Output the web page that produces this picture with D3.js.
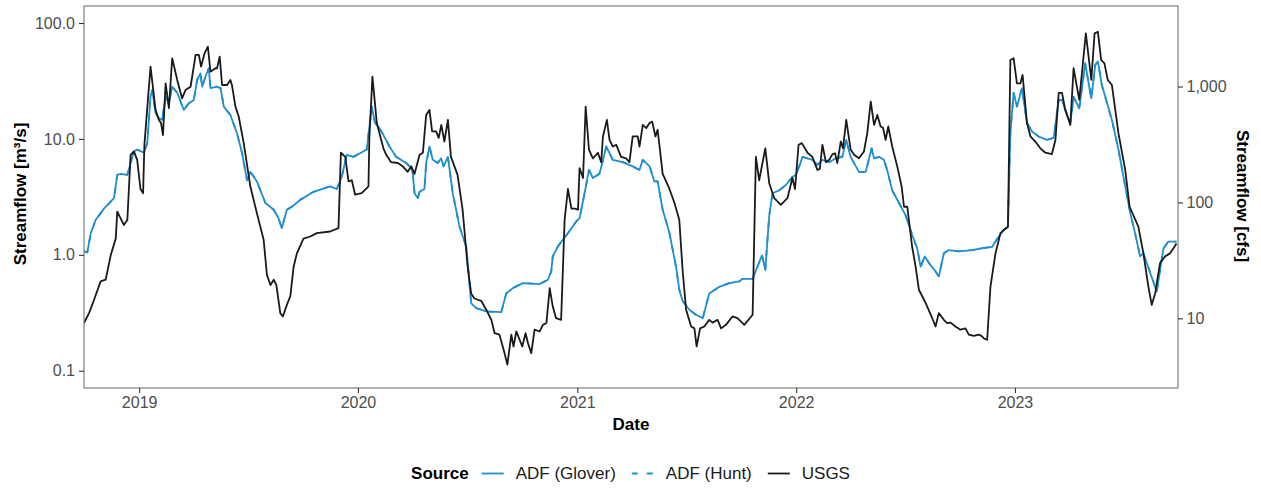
<!DOCTYPE html>
<html>
<head>
<meta charset="utf-8">
<script src="https://cdn.jsdelivr.net/npm/d3@7"></script>
<style>
  body { margin: 0; background: #fff; }
  svg { display: block; }
  text { font-family: "Liberation Sans", Arial, Helvetica, sans-serif; }
</style>
</head>
<body>
<svg id="chart" width="1261" height="488"></svg>
<script>
// ---------------- DATA ----------------
// Dates are decimal years; values are streamflow in m³/s.
const gloverYears = [
  2018.748,2018.763,2018.779,2018.801,2018.839,2018.885,2018.900,2018.915,2018.946,2018.961,
  2018.976,2018.991,2019.022,2019.037,2019.052,2019.060,2019.075,2019.090,2019.105,2019.121,
  2019.136,2019.151,2019.174,2019.204,2019.227,2019.250,2019.265,2019.280,2019.288,2019.303,
  2019.318,2019.326,2019.356,2019.372,2019.387,2019.417,2019.447,2019.470,2019.493,2019.508,
  2019.538,2019.577,2019.615,2019.637,2019.652,2019.675,2019.698,2019.736,2019.797,2019.873,
  2019.903,2019.926,2019.949,2019.979,2020.040,2020.063,2020.078,2020.098,2020.116,2020.144,
  2020.174,2020.220,2020.243,2020.250,2020.258,2020.273,2020.281,2020.303,2020.311,2020.326,
  2020.341,2020.364,2020.379,2020.390,2020.410,2020.432,2020.463,2020.494,2020.516,2020.539,
  2020.585,2020.653,2020.676,2020.706,2020.752,2020.828,2020.866,2020.881,2020.888,2020.911,
  2020.957,2020.995,2021.010,2021.033,2021.053,2021.071,2021.101,2021.114,2021.132,2021.162,
  2021.208,2021.253,2021.284,2021.299,2021.330,2021.352,2021.367,2021.390,2021.421,2021.451,
  2021.466,2021.481,2021.512,2021.542,2021.573,2021.603,2021.649,2021.694,2021.740,2021.755,
  2021.801,2021.823,2021.844,2021.859,2021.877,2021.892,2021.922,2021.953,2021.983,2021.999,
  2022.014,2022.029,2022.074,2022.097,2022.120,2022.151,2022.181,2022.211,2022.229,2022.249,
  2022.287,2022.318,2022.345,2022.356,2022.379,2022.401,2022.416,2022.439,2022.470,2022.500,
  2022.530,2022.553,2022.569,2022.588,2022.607,2022.637,2022.652,2022.675,2022.698,2022.743,
  2022.804,2022.850,2022.895,2022.926,2022.949,2022.968,2022.979,2022.994,2023.009,2023.032,
  2023.055,2023.078,2023.108,2023.146,2023.177,2023.200,2023.215,2023.230,2023.253,2023.268,
  2023.294,2023.321,2023.349,2023.367,2023.379,2023.397,2023.413,2023.443,2023.473,2023.504,
  2023.527,2023.549,2023.572,2023.587,2023.618,2023.648,2023.663,2023.679,2023.701,2023.738
];
const gloverValues = [
  1.07,1.05,1.54,2.0,2.5,3.08,4.9,5.0,4.9,6.2,
  7.8,8.1,7.6,9.2,23.2,26.4,16.7,15.1,14.6,23,
  20.3,28.2,25,17.8,20.3,21.7,32.3,36.8,28.2,34.4,
  40.7,27.4,28.2,27.4,19.0,16.1,11.2,7.6,4.4,5.2,
  4.3,2.8,2.45,2.07,1.70,2.45,2.6,2.98,3.5,3.9,
  3.7,4.7,7.3,7.0,8.1,19,13.7,12.4,10.8,8.6,
  7.0,6.2,5.6,5.0,3.4,3.08,3.5,3.7,6.2,8.6,
  6.6,6.2,6.8,5.8,7.0,3.4,1.75,1.17,0.384,0.347,
  0.325,0.32,0.465,0.516,0.57,0.56,0.61,0.72,0.97,1.18,
  1.54,1.94,2.07,3.4,5.4,4.6,5.0,6.2,8.6,6.6,
  6.3,5.8,5.4,6.6,5.8,4.3,4.3,2.45,1.54,0.79,
  0.5,0.40,0.336,0.304,0.284,0.465,0.53,0.57,0.59,0.62,
  0.62,0.79,0.99,0.74,2.18,3.4,3.6,4.0,4.7,4.9,
  5.8,7.0,6.6,5.97,6.6,6.3,6.8,7.0,9.8,7.0,
  5.2,5.2,8.3,6.8,7.0,6.6,5.4,3.6,2.8,2.2,
  1.49,1.14,0.79,0.97,0.85,0.72,0.65,1.03,1.1,1.07,
  1.1,1.14,1.17,1.44,1.64,1.75,11.2,25,19,27.4,
  13.7,11.6,10.5,9.8,10.2,21.7,21.7,17.8,13.7,23,
  18.4,44.9,22.4,43.5,46.4,29.2,23,14.6,8.1,3.9,
  2.29,1.54,0.97,1.03,0.70,0.483,0.74,1.14,1.30,1.30
];
// In the picture the Hunt estimate lies exactly on top of the Glover line.
const huntYears = gloverYears;
const huntValues = gloverValues;

const usgsYears = [
  2018.748,2018.771,2018.794,2018.824,2018.847,2018.870,2018.893,2018.900,2018.930,2018.946,
  2018.961,2018.976,2018.991,2019.006,2019.018,2019.024,2019.052,2019.075,2019.090,2019.100,
  2019.109,2019.121,2019.136,2019.151,2019.174,2019.196,2019.212,2019.235,2019.258,2019.273,
  2019.283,2019.299,2019.314,2019.326,2019.349,2019.356,2019.368,2019.379,2019.402,2019.417,
  2019.424,2019.440,2019.455,2019.478,2019.508,2019.538,2019.569,2019.584,2019.600,2019.615,
  2019.627,2019.645,2019.657,2019.675,2019.691,2019.706,2019.721,2019.751,2019.782,2019.812,
  2019.873,2019.911,2019.922,2019.942,2019.957,2019.972,2019.987,2020.017,2020.048,2020.052,
  2020.066,2020.086,2020.098,2020.116,2020.129,2020.151,2020.182,2020.204,2020.227,2020.243,
  2020.258,2020.281,2020.296,2020.311,2020.326,2020.338,2020.356,2020.368,2020.380,2020.394,
  2020.410,2020.424,2020.454,2020.477,2020.500,2020.516,2020.531,2020.546,2020.562,2020.585,
  2020.608,2020.623,2020.645,2020.668,2020.681,2020.699,2020.709,2020.722,2020.737,2020.749,
  2020.764,2020.775,2020.790,2020.805,2020.828,2020.843,2020.859,2020.874,2020.888,2020.903,
  2020.926,2020.942,2020.957,2020.973,2020.988,2021.003,2021.010,2021.026,2021.038,2021.053,
  2021.071,2021.094,2021.109,2021.117,2021.135,2021.147,2021.162,2021.178,2021.200,2021.223,
  2021.238,2021.253,2021.276,2021.284,2021.299,2021.315,2021.330,2021.342,2021.357,2021.367,
  2021.390,2021.421,2021.444,2021.466,2021.481,2021.497,2021.520,2021.535,2021.545,2021.561,
  2021.580,2021.603,2021.618,2021.641,2021.657,2021.679,2021.709,2021.732,2021.763,2021.801,
  2021.816,2021.831,2021.859,2021.877,2021.900,2021.930,2021.960,2021.983,2021.995,2022.011,
  2022.026,2022.052,2022.074,2022.097,2022.108,2022.120,2022.136,2022.151,2022.166,2022.178,
  2022.188,2022.204,2022.214,2022.229,2022.249,2022.265,2022.287,2022.310,2022.325,2022.341,
  2022.356,2022.371,2022.386,2022.397,2022.409,2022.421,2022.439,2022.462,2022.482,2022.493,
  2022.508,2022.530,2022.546,2022.561,2022.592,2022.622,2022.637,2022.652,2022.675,2022.690,
  2022.706,2022.728,2022.751,2022.774,2022.789,2022.812,2022.835,2022.847,2022.858,2022.873,
  2022.888,2022.911,2022.934,2022.949,2022.968,2022.979,2022.994,2023.009,2023.025,2023.035,
  2023.055,2023.071,2023.093,2023.116,2023.139,2023.169,2023.185,2023.200,2023.215,2023.230,
  2023.253,2023.268,2023.294,2023.324,2023.349,2023.364,2023.379,2023.394,2023.409,2023.424,
  2023.443,2023.473,2023.504,2023.524,2023.564,2023.587,2023.610,2023.625,2023.641,2023.663,
  2023.686,2023.709,2023.732,2023.738
];
const usgsValues = [
  0.258,0.314,0.41,0.59,0.61,0.99,1.38,2.36,1.81,2.0,
  7.3,7.8,6.6,3.7,3.4,8.9,42,17.8,14.6,13.7,
  10.8,30.2,18.4,49.6,32.3,22.4,26.4,28.2,53,53,
  42,54.8,62.5,38,40.7,40.7,51.3,29.2,29.2,32.3,
  29.2,19,15.6,9.2,3.9,2.29,1.35,0.67,0.55,0.61,
  0.55,0.314,0.294,0.37,0.44,0.79,1.03,1.38,1.44,1.54,
  1.59,1.70,7.6,7.0,4.3,4.4,3.3,3.4,3.9,10.2,
  34.4,13.7,11.2,8.3,7.3,6.3,6.2,5.8,5.2,5.8,
  5.0,7.3,7.6,16.1,17.8,11.6,11.6,10.2,13.2,9.5,
  14.6,7.0,4.9,2.45,0.79,0.465,0.42,0.41,0.40,0.336,
  0.275,0.211,0.205,0.142,0.113,0.205,0.162,0.218,0.185,0.162,
  0.211,0.173,0.142,0.226,0.218,0.249,0.258,0.516,0.358,0.284,
  0.275,2.0,3.7,2.5,2.5,2.45,5.6,4.6,19,8.1,
  6.8,7.6,6.3,10.5,14.6,9.8,8.6,8.9,7.0,6.8,
  6.3,10.5,10.5,8.6,13.2,12.4,13.7,14.1,10.5,12.0,
  5.0,3.7,2.8,2.0,0.74,0.336,0.241,0.232,0.162,0.232,
  0.241,0.275,0.26,0.275,0.232,0.249,0.294,0.284,0.249,0.304,
  7.0,4.4,8.3,4.15,3.08,2.7,3.08,4.6,3.7,8.9,
  9.2,7.6,7.0,5.4,5.5,8.9,6.3,6.6,7.4,7.5,
  6.2,9.5,8.3,14.6,8.1,7.3,6.8,7.8,11.2,21,
  13.2,16.1,12.8,12.5,9.8,12.8,8.6,5.8,3.9,2.6,
  2.6,1.18,0.79,0.50,0.384,0.284,0.241,0.314,0.275,0.258,
  0.26,0.241,0.226,0.232,0.205,0.20,0.205,0.20,0.19,0.185,
  0.53,1.03,1.54,1.64,1.75,48,49.6,30.2,30.2,35.6,
  13.7,10.5,9.5,8.3,7.6,7.4,9.8,25,25,17.8,
  13.2,40.7,21.7,81.5,32.3,81.5,84,48,44.9,32.3,
  29.2,11.2,5.4,2.6,1.75,1.03,0.53,0.37,0.465,0.85,
  0.97,1.03,1.2,1.25
];

const leftTicks = [0.1, 1, 10, 100];
const rightTicks = [10, 100, 1000];
const yearTicks = [2019, 2020, 2021, 2022, 2023];
const seriesNames = ["ADF (Glover)", "ADF (Hunt)", "USGS"];
const cfsPerCms = 35.3147;

// ---------------- LAYOUT ----------------
const W = 1261, H = 488;
const panel = { left: 84, right: 1178, top: 6, bottom: 388 };
const BLUE = "#1f8ecf", BLACK = "#1a1a1a";

const svg = d3.select("#chart");

function decYearToDate(d) {
  const yr = Math.floor(d);
  const s = Date.UTC(yr, 0, 1), e = Date.UTC(yr + 1, 0, 1);
  return new Date(s + (d - yr) * (e - s));
}

const x = d3.scaleUtc()
  .domain([new Date(Date.UTC(2018, 9, 1)), new Date(Date.UTC(2023, 8, 30))])
  .range([panel.left, panel.right]);
const yDomain = [0.0710, 140.2];
const y = d3.scaleLog().domain(yDomain).range([panel.bottom, panel.top]);
const yR = d3.scaleLog().domain(yDomain.map(v => v * cfsPerCms)).range([panel.bottom, panel.top]);

// clip
svg.append("defs").append("clipPath").attr("id", "clip")
  .append("rect").attr("x", panel.left).attr("y", panel.top)
  .attr("width", panel.right - panel.left).attr("height", panel.bottom - panel.top);

const line = d3.line().x(d => x(d.date)).y(d => y(d.v));
function toSeries(years, vals) {
  const n = Math.min(years.length, vals.length);
  const out = [];
  for (let i = 0; i < n; i++) out.push({ date: decYearToDate(years[i]), v: vals[i] });
  return out;
}

const gLines = svg.append("g").attr("clip-path", "url(#clip)");
gLines.append("path").datum(toSeries(gloverYears, gloverValues))
  .attr("d", line).attr("fill", "none").attr("stroke", BLUE)
  .attr("stroke-width", 1.8).attr("stroke-linejoin", "round");
gLines.append("path").datum(toSeries(huntYears, huntValues))
  .attr("d", line).attr("fill", "none").attr("stroke", BLUE)
  .attr("stroke-width", 1.8).attr("stroke-dasharray", "6,8").attr("stroke-linejoin", "round");
gLines.append("path").datum(toSeries(usgsYears, usgsValues))
  .attr("d", line).attr("fill", "none").attr("stroke", BLACK)
  .attr("stroke-width", 1.8).attr("stroke-linejoin", "round");

// panel border
svg.append("rect")
  .attr("x", panel.left).attr("y", panel.top)
  .attr("width", panel.right - panel.left).attr("height", panel.bottom - panel.top)
  .attr("fill", "none").attr("stroke", "#7f7f7f").attr("stroke-width", 1.2);

function styleAxis(g) {
  g.select(".domain").remove();
  g.selectAll(".tick line").attr("stroke", "#333").attr("stroke-width", 1.1);
  g.selectAll(".tick text").attr("fill", "#4d4d4d")
    .style("font-family", '"Liberation Sans", Arial, sans-serif').style("font-size", "16px");
}

svg.append("g").attr("transform", `translate(${panel.left},0)`)
  .call(d3.axisLeft(y).tickValues(leftTicks).tickFormat(d3.format(".1f")).tickSize(5).tickPadding(4))
  .call(styleAxis);

svg.append("g").attr("transform", `translate(${panel.right},0)`)
  .call(d3.axisRight(yR).tickValues(rightTicks).tickFormat(d3.format(",")).tickSize(5).tickPadding(3.5))
  .call(styleAxis);

svg.append("g").attr("transform", `translate(0,${panel.bottom})`)
  .call(d3.axisBottom(x).tickValues(yearTicks.map(yv => new Date(Date.UTC(yv, 0, 1))))
    .tickFormat(d3.utcFormat("%Y")).tickSize(5).tickPadding(4))
  .call(styleAxis);

// axis titles
svg.append("text").attr("x", (panel.left + panel.right) / 2).attr("y", 430)
  .attr("text-anchor", "middle").attr("font-weight", "bold").attr("font-size", 17)
  .attr("fill", "#000").text("Date");
svg.append("text").attr("transform", "translate(26,194) rotate(-90)")
  .attr("text-anchor", "middle").attr("font-weight", "bold").attr("font-size", 17)
  .attr("fill", "#000").text("Streamflow [m³/s]");
svg.append("text").attr("transform", "translate(1237,196) rotate(90)")
  .attr("text-anchor", "middle").attr("font-weight", "bold").attr("font-size", 17)
  .attr("fill", "#000").text("Streamflow [cfs]");

// legend
const leg = svg.append("g");
const legY = 479;
let cx = 0;
const title = leg.append("text").attr("x", cx).attr("y", legY)
  .attr("font-weight", "bold").attr("font-size", 17).attr("fill", "#000").text("Source");
cx += title.node().getComputedTextLength() + 13;
const legendStyles = [
  { color: BLUE, dash: null },
  { color: BLUE, dash: "6,9" },
  { color: BLACK, dash: null }
];
seriesNames.forEach((name, i) => {
  const st = legendStyles[i];
  leg.append("line").attr("x1", cx).attr("x2", cx + 22)
    .attr("y1", legY - 5.5).attr("y2", legY - 5.5)
    .attr("stroke", st.color).attr("stroke-width", 1.8)
    .attr("stroke-dasharray", st.dash);
  cx += 22 + 12;
  const t = leg.append("text").attr("x", cx).attr("y", legY)
    .attr("font-size", 17).attr("fill", "#1a1a1a").text(name);
  cx += t.node().getComputedTextLength() + 16;
});
const legW = cx - 16;
leg.attr("transform", `translate(${630.5 - legW / 2},0)`);
</script>
</body>
</html>
